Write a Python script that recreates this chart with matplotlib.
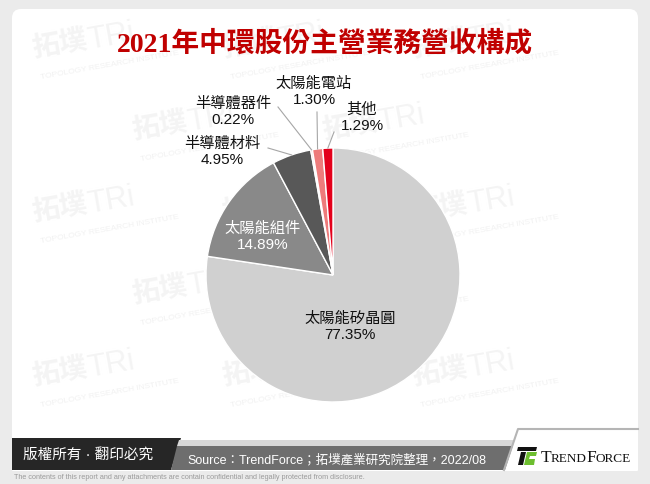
import matplotlib.pyplot as plt
import numpy as np
from matplotlib.patches import FancyBboxPatch, Polygon, Rectangle

W, H = 650, 485

title = "2021年中環股份主營業務營收構成"
categories = ["太陽能矽晶圓", "太陽能組件", "半導體材料", "半導體器件", "太陽能電站", "其他"]
shares = [77.35, 14.89, 4.95, 0.22, 1.30, 1.29]
colors = ["#D0D0D0", "#898989", "#585858", "#F4C4C4", "#EE7B7B", "#E3001B"]
source = "Source：TrendForce；拓墣產業研究院整理，2022/08"
copyright_text = "版權所有 · 翻印必究"
disclaimer = ("The contents of this report and any attachments are contain "
              "confidential and legally protected from disclosure.")

plt.rcParams["font.family"] = ["Liberation Sans", "Noto Sans CJK TC"]

fig = plt.figure(figsize=(W / 100, H / 100), dpi=100)
fig.patch.set_facecolor("#EBEBEB")

# background layer in pixel coordinates (y down)
bg = fig.add_axes([0, 0, 1, 1])
bg.set_xlim(0, W)
bg.set_ylim(H, 0)
bg.axis("off")

bg.add_patch(FancyBboxPatch((12, 10), 626, 468, boxstyle="round,pad=0,rounding_size=9",
                            facecolor="white", edgecolor="none", zorder=0))
bg.add_patch(Rectangle((0, 472), W, 13, facecolor="#EBEBEB", edgecolor="none", zorder=0.2))

# faint watermark tiles
for row, wy in enumerate(range(45, 430, 82)):
    shift = -60 if row % 2 else 30
    for wx in range(shift, W, 190):
        if wx < 15 or wx > 490:
            continue
        bg.text(wx, wy, "拓墣", fontsize=20, fontweight="bold", color="#F4F4F4",
                rotation=10, ha="left", va="center", zorder=0.1)
        bg.text(wx + 55, wy - 8, "TRi", fontsize=22, color="#F4F4F4",
                rotation=10, ha="left", va="center", zorder=0.1)
        bg.text(wx + 10, wy + 20, "TOPOLOGY RESEARCH INSTITUTE", fontsize=6,
                color="#F1F1F1", rotation=10, ha="left", va="center", zorder=0.1)

# title
bg.text(325, 44, title, fontsize=20, fontweight="bold", color="#C00000",
        ha="center", va="center", family=["Liberation Serif", "Noto Sans CJK TC"])

# footer
bg.add_patch(Polygon([(12, 439), (181, 439), (171, 471), (12, 471)],
                     closed=True, facecolor="#262626", edgecolor="none", zorder=2))
bg.add_patch(Polygon([(179, 441), (518, 441), (516, 447), (177, 447)],
                     closed=True, facecolor="#D8D8D8", edgecolor="none", zorder=2))
bg.add_patch(Polygon([(177, 447), (516, 447), (506, 471), (171, 471)],
                     closed=True, facecolor="#6E6E6E", edgecolor="none", zorder=2))
bg.add_patch(Polygon([(518, 431), (638, 431), (638, 471), (505, 471)],
                     closed=True, facecolor="white", edgecolor="none", zorder=2))
bg.plot([504, 518, 638], [471, 430, 430], color="#B5B5B5", lw=1.5, zorder=2.1)
bg.text(88, 456, copyright_text, fontsize=10.5, color="white", ha="center", va="center",
        zorder=3)
bg.text(187, 460, source, fontsize=9, color="white", ha="left", va="center", zorder=3)
bg.text(14, 478, disclaimer, fontsize=5.2, color="#9A9A9A", ha="left", va="center",
        zorder=3)

# TrendForce logo
bg.add_patch(Polygon([(518, 448), (537, 448), (536, 452), (517, 452)],
                     closed=True, facecolor="#111111", edgecolor="none", zorder=3))
bg.add_patch(Polygon([(521, 453), (526, 453), (523, 466), (518, 466)],
                     closed=True, facecolor="#111111", edgecolor="none", zorder=3))
bg.add_patch(Polygon([(527, 453), (537, 453), (536, 457), (530, 457), (529, 460),
                      (535, 460), (534, 466), (524, 466)],
                     closed=True, facecolor="#6DBE2F", edgecolor="none", zorder=3))
logo_parts = [("T", 541, 12.5), ("REND", 551, 9.5), ("F", 586, 12.5), ("ORCE", 596, 9.5)]
for txt, lx, fs in logo_parts:
    bg.text(lx, 458 if fs > 10 else 459, txt, fontsize=fs, family="Liberation Serif",
            color="#111111", ha="left", va="center", zorder=3)

# pie
cx, cy, r = 333, 276, 127
ax = fig.add_axes([(cx - r) / W, 1 - (cy + r) / H, 2 * r / W, 2 * r / H])
wedges, _ = ax.pie(shares, colors=colors, startangle=90, counterclock=False, radius=1,
                   wedgeprops=dict(edgecolor="white", linewidth=1))
ax.set_xlim(-1, 1)
ax.set_ylim(-1, 1)
ax.set_aspect("equal")
ax.axis("off")


def to_data(px, py):
    return (px - cx) / r, (cy - py) / r


label_pos = [(350, 327), (263, 237), (222, 152), (233, 112), (314, 92), (362, 118)]
label_color = ["#111111", "white", "#111111", "#111111", "#111111", "#111111"]
leader_start = [None, None, (268, 149), (278, 108), (317, 113), (334, 133)]

for w, cat, val, pos, col, start in zip(wedges, categories, shares, label_pos,
                                        label_color, leader_start):
    tx, ty = to_data(*pos)
    ax.text(tx, ty, f"{cat}\n{val:.2f}%", fontsize=11, color=col,
            ha="center", va="center", clip_on=False)
    if start is not None:
        mid = np.deg2rad((w.theta1 + w.theta2) / 2)
        sx, sy = to_data(*start)
        ax.plot([sx, np.cos(mid)], [sy, np.sin(mid)], color="#A6A6A6", lw=0.8,
                clip_on=False)

fig.savefig("out.png", dpi=100, facecolor=fig.get_facecolor())
